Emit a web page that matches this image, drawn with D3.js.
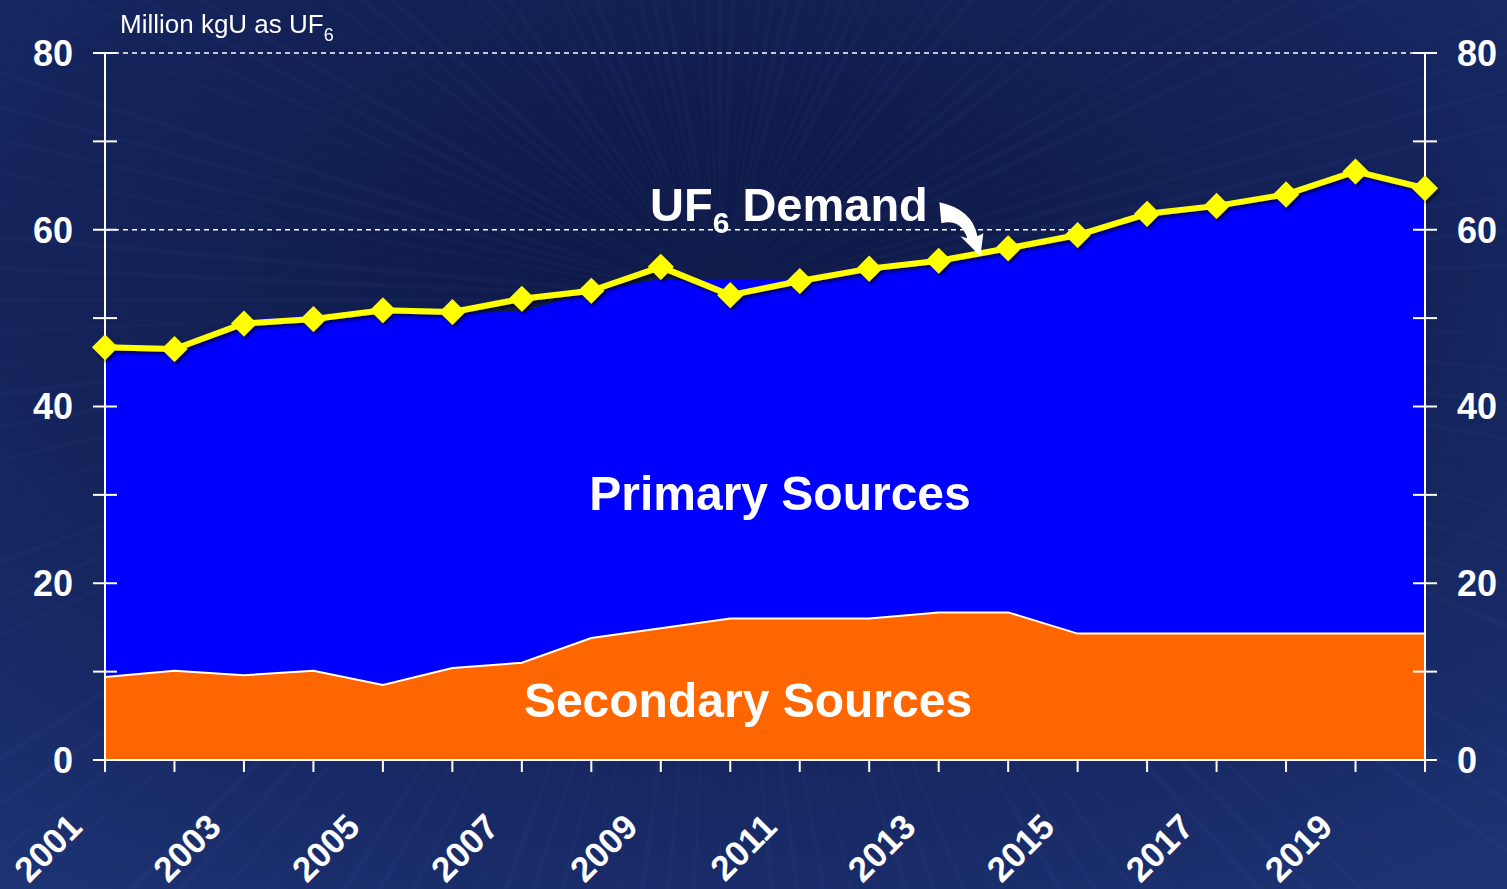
<!DOCTYPE html>
<html lang="en">
<head>
	<meta charset="UTF-8">
	<title>UF6 Demand vs Supply</title>
	<style>
		html, body { margin: 0; padding: 0; background: #13215a; }
		svg { display: block; font-family: "Liberation Sans", Arial, sans-serif; }
	</style>
	<script src="https://cdn.jsdelivr.net/npm/d3@7"></script>
</head>
<body>
	<figure id="chart" style="margin:0"></figure>
	<script>
		// data (million kgU as UF6)
		var years = [2001, 2002, 2003, 2004, 2005, 2006, 2007, 2008, 2009, 2010,
			2011, 2012, 2013, 2014, 2015, 2016, 2017, 2018, 2019, 2020];
		var secondary = [9.4, 10.1, 9.6, 10.1, 8.5, 10.4, 11.0, 13.8, 14.9, 16.0,
			16.0, 16.0, 16.7, 16.7, 14.3, 14.3, 14.3, 14.3, 14.3, 14.3];
		var primary = [37.1, 36.2, 40.2, 40.2, 42.4, 40.2, 39.7, 39.3, 39.5, 38.4,
			38.4, 39.4, 39.6, 40.9, 44.9, 47.3, 48.2, 49.5, 52.1, 50.2];
		var demand = [46.7, 46.5, 49.4, 49.9, 50.9, 50.7, 52.2, 53.1, 55.8, 52.6,
			54.2, 55.6, 56.5, 57.9, 59.4, 61.8, 62.7, 64.0, 66.6, 64.7];
		var yTicks = [0, 10, 20, 30, 40, 50, 60, 70, 80];
		var yLabels = [0, 20, 40, 60, 80];
		var gridLines = [20, 40, 60, 80];
		var yearLabels = years.filter(function(d) { return d % 2 === 1; });

		var w = 1507, h = 889;
		var svg = d3.select("#chart").append("svg")
			.attr("width", w)
			.attr("height", h);

		var defs = svg.append("defs");
		var bg = defs.append("radialGradient")
			.attr("id", "bg")
			.attr("cx", "0.48").attr("cy", "0.3").attr("r", "0.85");
		bg.append("stop").attr("offset", "0%").attr("stop-color", "#0e1846");
		bg.append("stop").attr("offset", "55%").attr("stop-color", "#14235a");
		bg.append("stop").attr("offset", "100%").attr("stop-color", "#1d3374");

		var shadow = defs.append("filter").attr("id", "shadow")
			.attr("x", "-5%").attr("y", "-20%").attr("width", "110%").attr("height", "140%");
		shadow.append("feDropShadow")
			.attr("dx", 2).attr("dy", 3).attr("stdDeviation", 1.5)
			.attr("flood-color", "#000").attr("flood-opacity", 0.55);

		svg.append("rect").attr("width", w).attr("height", h).attr("fill", "url(#bg)");

		// very faint streaks in the background
		var streaks = svg.append("g").attr("opacity", 0.025);
		d3.range(0, 360, 2.5).forEach(function(a, k) {
			var r = a * Math.PI / 180;
			streaks.append("line")
				.attr("x1", 720).attr("y1", 300)
				.attr("x2", 720 + Math.cos(r) * 1200).attr("y2", 300 + Math.sin(r) * 1200)
				.attr("stroke", "#9fb4ff").attr("stroke-width", (k % 5) + 1);
		});

		var x = d3.scaleLinear().domain([2001, 2020]).range([105, 1425]);
		var y = d3.scaleLinear().domain([0, 80]).range([760, 53]);

		// dashed grid lines (behind the areas)
		svg.append("g").selectAll("line")
			.data(gridLines)
			.enter().append("line")
			.attr("x1", x(2001)).attr("x2", x(2020))
			.attr("y1", d => y(d)).attr("y2", d => y(d))
			.attr("stroke", "#ffffff")
			.attr("stroke-width", 1.5)
			.attr("stroke-dasharray", "5,4");

		// stacked areas
		var rows = years.map(function(yr, i) {
			return { year: yr, secondary: secondary[i], primary: primary[i] };
		});
		var series = d3.stack().keys(["secondary", "primary"])(rows);
		var colors = { secondary: "#ff6600", primary: "#0000ff" };

		var area = d3.area()
			.x(d => x(d.data.year))
			.y0(d => y(d[0]))
			.y1(d => y(d[1]));

		svg.append("g").selectAll("path")
			.data(series.slice().reverse())
			.enter().append("path")
			.attr("d", area)
			.attr("fill", d => colors[d.key]);

		// white edge on top of secondary sources
		svg.append("path")
			.datum(series[0])
			.attr("d", d3.line().x(d => x(d.data.year)).y(d => y(d[1])))
			.attr("fill", "none")
			.attr("stroke", "#ffffff")
			.attr("stroke-width", 2);

		// axes
		var axes = svg.append("g").attr("stroke", "#ffffff").attr("stroke-width", 2);
		axes.append("line").attr("x1", x(2001)).attr("x2", x(2001)).attr("y1", y(80)).attr("y2", y(0));
		axes.append("line").attr("x1", x(2020)).attr("x2", x(2020)).attr("y1", y(80)).attr("y2", y(0));
		axes.append("line").attr("x1", x(2001) - 12).attr("x2", x(2020) + 12).attr("y1", y(0)).attr("y2", y(0));

		[x(2001), x(2020)].forEach(function(px) {
			axes.append("g").selectAll("line")
				.data(yTicks)
				.enter().append("line")
				.attr("x1", px - 12).attr("x2", px + 12)
				.attr("y1", d => y(d)).attr("y2", d => y(d));
		});

		axes.append("g").selectAll("line")
			.data(years)
			.enter().append("line")
			.attr("x1", d => x(d)).attr("x2", d => x(d))
			.attr("y1", y(0)).attr("y2", y(0) + 12);

		var labelStyle = function(sel) {
			sel.attr("fill", "#ffffff")
				.attr("font-weight", "bold")
				.attr("font-size", "36px");
		};

		svg.append("g").selectAll("text")
			.data(yLabels)
			.enter().append("text")
			.attr("x", 73)
			.attr("y", d => y(d))
			.attr("dy", "0.36em")
			.attr("text-anchor", "end")
			.call(labelStyle)
			.text(d => d);

		svg.append("g").selectAll("text")
			.data(yLabels)
			.enter().append("text")
			.attr("x", 1457)
			.attr("y", d => y(d))
			.attr("dy", "0.36em")
			.attr("text-anchor", "start")
			.call(labelStyle)
			.text(d => d);

		svg.append("g").selectAll("text")
			.data(yearLabels)
			.enter().append("text")
			.attr("transform", d => `translate(${x(d) - 21},829) rotate(-45)`)
			.attr("text-anchor", "end")
			.attr("fill", "#ffffff")
			.attr("font-weight", "bold")
			.attr("font-size", "35px")
			.text(d => d);

		// demand line with diamonds
		var demandG = svg.append("g").attr("filter", "url(#shadow)");
		demandG.append("path")
			.datum(demand)
			.attr("d", d3.line().x((d, i) => x(years[i])).y(d => y(d)))
			.attr("fill", "none")
			.attr("stroke", "#ffff00")
			.attr("stroke-width", 6)
			.attr("stroke-linejoin", "round");

		demandG.selectAll("path.marker")
			.data(demand)
			.enter().append("path")
			.attr("class", "marker")
			.attr("d", d3.symbol().type(d3.symbolSquare).size(340))
			.attr("transform", (d, i) => `translate(${x(years[i])},${y(d)}) rotate(45)`)
			.attr("fill", "#ffff00");

		// labels
		svg.append("text")
			.attr("x", 780).attr("y", 510)
			.attr("text-anchor", "middle")
			.attr("fill", "#ffffff").attr("font-weight", "bold").attr("font-size", "48px")
			.text("Primary Sources");

		svg.append("text")
			.attr("x", 748).attr("y", 717)
			.attr("text-anchor", "middle")
			.attr("fill", "#ffffff").attr("font-weight", "bold").attr("font-size", "48px")
			.text("Secondary Sources");

		var dem = svg.append("text")
			.attr("x", 650).attr("y", 221)
			.attr("fill", "#ffffff").attr("font-weight", "bold").attr("font-size", "47px");
		dem.append("tspan").text("UF");
		dem.append("tspan").attr("font-size", "30px").attr("dy", 12).text("6");
		dem.append("tspan").attr("dy", -12).text(" Demand");

		var unit = svg.append("text")
			.attr("x", 120).attr("y", 33)
			.attr("fill", "#ffffff").attr("font-size", "26px");
		unit.append("tspan").text("Million kgU as UF");
		unit.append("tspan").attr("font-size", "18px").attr("dy", 8).text("6");

		// curved arrow pointing to the demand line
		var tipX = x(2013.6), tipY = y(57.0);
		svg.append("path")
			.attr("d", `M ${tipX - 41},${tipY - 54}
				Q ${tipX - 8},${tipY - 47} ${tipX - 3},${tipY - 20}
				L ${tipX + 3},${tipY - 23}
				L ${tipX},${tipY}
				L ${tipX - 20},${tipY - 20}
				L ${tipX - 13},${tipY - 18}
				Q ${tipX - 20},${tipY - 38} ${tipX - 39},${tipY - 33} Z`)
			.attr("fill", "#ffffff");
	</script>
</body>
</html>
